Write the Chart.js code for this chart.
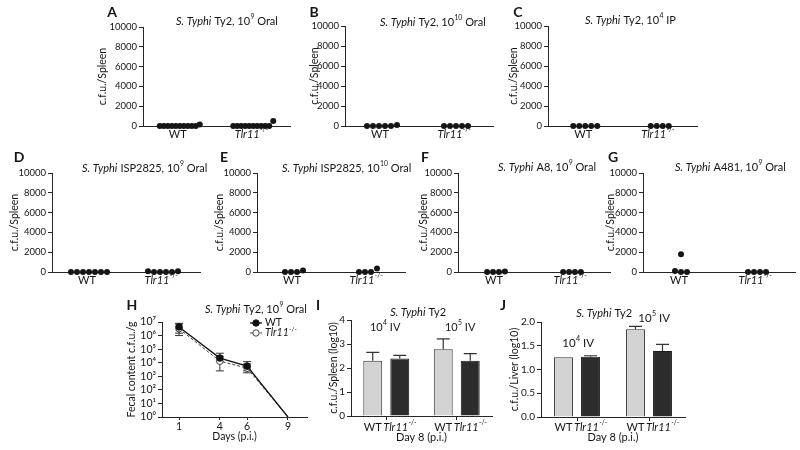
<!DOCTYPE html>
<html><head><meta charset="utf-8">
<script src="https://cdn.jsdelivr.net/npm/chart.js@4.4.1/dist/chart.umd.min.js"></script>
<style>
html,body{margin:0;padding:0;background:#fff;}
#wrap{position:relative;width:800px;height:450px;overflow:hidden;background:#fff;}
canvas{position:absolute;}
</style></head><body><div id="wrap"></div>
<script>
// ---------------- data ----------------
const groupLabels = ['WT', '*Tlr11*^-/-^'];
const spleenTicks = [0, 2000, 4000, 6000, 8000, 10000];
// A: S. Typhi Ty2, 10^9 oral
const ty2Oral9WT  = [0, 0, 0, 0, 0, 0, 0, 0, 0, 0, 150];
const ty2Oral9Tlr = [0, 0, 0, 0, 0, 0, 0, 0, 0, 0, 500];
// B: S. Typhi Ty2, 10^10 oral
const ty2Oral10WT  = [0, 0, 0, 0, 0, 100];
const ty2Oral10Tlr = [0, 0, 0, 0, 0];
// C: S. Typhi Ty2, 10^4 IP
const ty2IPWT  = [0, 0, 0, 0, 0];
const ty2IPTlr = [0, 0, 0, 0];
// D: ISP2825, 10^9 oral
const isp9WT  = [0, 0, 0, 0, 0, 0, 0];
const isp9Tlr = [80, 0, 0, 0, 0, 80];
// E: ISP2825, 10^10 oral
const isp10WT  = [0, 0, 0, 150];
const isp10Tlr = [0, 0, 0, 350];
// F: A8, 10^9 oral
const a8WT  = [0, 0, 0, 60];
const a8Tlr = [0, 0, 0, 0];
// G: A481, 10^9 oral
const a481WT  = [100, 1800, 0, 0];
const a481Tlr = [0, 0, 0, 0];
// H: fecal content
const days = [1, 4, 6, 9];
const fecalTicks = [1, 10, 100, 1e3, 1e4, 1e5, 1e6, 1e7];
const fecalWT     = [4.3e6, 2.2e4, 5.6e3, 1];
const fecalWTLow  = [1.0e6, 1.2e4, 2.5e3, null];
const fecalWTHigh = [8.0e6, 5.0e4, 1.2e4, null];
const fecalTlr     = [3.2e6, 1.3e4, 4.0e3, 1];
const fecalTlrLow  = [1.5e6, 2.5e3, 1.8e3, null];
const fecalTlrHigh = [7.0e6, 3.0e4, 8.0e3, null];
// I / J: IV infection, day 8
const doses = ['10^4^ IV', '10^5^ IV'];
const spleenLogTicks = [0, 1, 2, 3, 4];
const spleenIVWT = [2.3, 2.78];  const spleenIVWTErr = [0.35, 0.43];
const spleenIVTlr = [2.4, 2.3];  const spleenIVTlrErr = [0.13, 0.3];
const liverLogTicks = [0, 0.5, 1, 1.5, 2];
const liverIVWT = [1.26, 1.85];  const liverIVWTErr = [0, 0.06];
const liverIVTlr = [1.27, 1.39]; const liverIVTlrErr = [0.02, 0.14];

// ---------------- helpers ----------------
const FF = 'Lato, "Noto Sans", "DejaVu Sans", sans-serif';
const INK = '#151515', AX = '#262626';
Chart.defaults.font.family = FF;
Chart.defaults.color = INK;
const SUP = {'0':'⁰','1':'¹','2':'²','3':'³','4':'⁴','5':'⁵','6':'⁶','7':'⁷','8':'⁸','9':'⁹','-':'⁻'};
function plain(m) {
  return m.replace(/\^([^^]*)\^/g, (_, s) => [...s].map(c => SUP[c] || c).join('')).replace(/\*/g, '');
}
function parseRich(m) {
  const segs = []; let it = false, sp = false, buf = '';
  const flush = () => { if (buf) { segs.push([buf, ((it ? 'i' : '') + (sp ? 's' : '')) || 'n']); buf = ''; } };
  for (const c of m) {
    if (c === '*') { flush(); it = !it; }
    else if (c === '^') { flush(); sp = !sp; }
    else buf += c;
  }
  flush(); return segs;
}
function drawRich(ctx, m, x, y, size, align, weight) {
  const segs = parseRich(m);
  const fontOf = st => `${st.includes('i') ? 'italic ' : ''}${weight || 'normal'} ${st.includes('s') ? size * 0.62 : size}px ${FF}`;
  const widths = segs.map(([t, st]) => { ctx.font = fontOf(st); return ctx.measureText(t).width; });
  const total = widths.reduce((a, b) => a + b, 0);
  let cx = align === 'center' ? x - total / 2 : align === 'right' ? x - total : x;
  ctx.textAlign = 'left'; ctx.textBaseline = 'middle';
  segs.forEach(([t, st], i) => {
    ctx.font = fontOf(st);
    ctx.fillText(t, cx, st.includes('s') ? y - size * 0.36 : y);
    cx += widths[i] + (st.includes('s') ? 0 : 0.3);
  });
}
function decorPlugin(o) {
  return {
    id: 'decor',
    afterDraw(chart) {
      const ctx = chart.ctx;
      ctx.save(); ctx.fillStyle = INK;
      (o.texts || []).forEach(t => drawRich(ctx, t.m, t.x - o.cl, t.y - o.ct, t.size, t.align || 'center', t.weight));
      if (o.axisLabelY) {
        const xs = chart.scales.x;
        xs.ticks.forEach(t => drawRich(ctx, groupLabels[Math.round(t.value) - 1], xs.getPixelForValue(t.value) - 2, o.axisLabelY - o.ct, o.axisLabelSize, 'center'));
      }
      if (o.barLabelY) {
        chart.data.datasets.forEach((ds, di) => {
          chart.getDatasetMeta(di).data.forEach(el =>
            drawRich(ctx, groupLabels[di], el.x, o.barLabelY - o.ct, o.barLabelSize, 'center'));
        });
      }
      if (o.legend) {
        const L = o.legend;
        chart.data.datasets.forEach((ds, di) => {
          const y = L.y + di * L.dy - o.ct, x = L.x - o.cl;
          ctx.save();
          ctx.strokeStyle = ds.borderColor; ctx.lineWidth = ds.borderWidth;
          ctx.setLineDash(ds.borderDash || []);
          ctx.beginPath(); ctx.moveTo(x - 6, y); ctx.lineTo(x + 6, y); ctx.stroke();
          ctx.setLineDash([]);
          ctx.beginPath(); ctx.arc(x, y, 3.2, 0, Math.PI * 2);
          ctx.fillStyle = ds.pointBackgroundColor; ctx.fill();
          ctx.lineWidth = 1; ctx.strokeStyle = ds.pointBorderColor; ctx.stroke();
          ctx.restore();
          ctx.fillStyle = INK;
          drawRich(ctx, groupLabels[di], x + 9, y, L.size, 'left');
        });
      }
      ctx.restore();
    }
  };
}
const barErrPlugin = {
  id: 'barErr',
  afterDatasetsDraw(chart) {
    const ctx = chart.ctx, ys = chart.scales.y;
    ctx.save(); ctx.strokeStyle = '#333'; ctx.lineWidth = 1.2;
    chart.data.datasets.forEach((ds, di) => {
      chart.getDatasetMeta(di).data.forEach((el, i) => {
        const e = ds.err[i]; if (!e) return;
        const top = ys.getPixelForValue(ds.data[i] + e);
        ctx.beginPath();
        ctx.moveTo(el.x, el.y); ctx.lineTo(el.x, top);
        ctx.moveTo(el.x - 6.5, top); ctx.lineTo(el.x + 6.5, top);
        ctx.stroke();
      });
    });
    ctx.restore();
  }
};
const lineErrPlugin = {
  id: 'lineErr',
  beforeDatasetsDraw(chart) {
    const ctx = chart.ctx, ys = chart.scales.y;
    ctx.save(); ctx.strokeStyle = '#333'; ctx.lineWidth = 1;
    chart.data.datasets.forEach((ds, di) => {
      chart.getDatasetMeta(di).data.forEach((el, i) => {
        if (ds.errLow[i] == null) return;
        const a = ys.getPixelForValue(ds.errLow[i]), b = ys.getPixelForValue(ds.errHigh[i]);
        ctx.beginPath();
        ctx.moveTo(el.x, a); ctx.lineTo(el.x, b);
        ctx.moveTo(el.x - 4, a); ctx.lineTo(el.x + 4, a);
        ctx.moveTo(el.x - 4, b); ctx.lineTo(el.x + 4, b);
        ctx.stroke();
      });
    });
    ctx.restore();
  }
};
const wrap = document.getElementById('wrap');
function makeCanvas(g) {
  const c = document.createElement('canvas');
  c.width = g.cw; c.height = g.ch;
  c.style.left = g.cl + 'px'; c.style.top = g.ct + 'px';
  c.style.width = g.cw + 'px'; c.style.height = g.ch + 'px';
  wrap.appendChild(c); return c;
}
function padFor(g, xH, ts) {
  const sl = g.yl - ts * 1.2 / 2;
  return { padding: { left: sl - g.cl, top: g.at - g.ct, right: g.cl + g.cw - g.ar, bottom: g.ct + g.ch - g.ab - xH }, yW: g.ax - sl };
}
// column-scatter placement: similar values share a row, row centred on the group
function spread(values, center, unitsPerPx) {
  const rows = [];
  values.forEach(v => {
    let r = rows.find(r => Math.abs(r.base - v) < 700);
    if (!r) { r = { base: v, items: [] }; rows.push(r); }
    r.items.push(v);
  });
  const pts = [];
  rows.forEach(r => {
    const n = r.items.length, sp = n > 7 ? 40 / (n - 1) : 6;
    r.items.forEach((v, i) => pts.push({ x: center + (i - (n - 1) / 2) * sp * unitsPerPx, y: v }));
  });
  return pts;
}
const baseOpts = { responsive: false, animation: false, events: [] };
const TICK = 9.5, TS = 10.5;

// ---------------- scatter panels A-G ----------------
function buildScatter(p) {
  const g = p.g, xH = 14;
  const L = padFor(g, xH, TS);
  const upp = 2 / (g.ar - g.ax);
  const pts = spread(p.wt, 1, upp).concat(spread(p.tlr, 2, upp));
  new Chart(makeCanvas(g), {
    type: 'scatter',
    data: { datasets: [{ data: pts, pointRadius: 3, pointHoverRadius: 3, pointBackgroundColor: INK, pointBorderColor: INK, pointBorderWidth: 0, clip: false }] },
    options: Object.assign({}, baseOpts, {
      layout: { padding: L.padding },
      plugins: { legend: { display: false }, tooltip: { enabled: false } },
      scales: {
        x: {
          type: 'linear', min: 0.5, max: 2.5,
          afterFit: s => { s.height = xH; },
          afterBuildTicks: s => { s.ticks = [{ value: 1 }, { value: 2 }]; },
          ticks: { display: false, callback: v => plain(groupLabels[Math.round(v) - 1]) },
          grid: { display: false, drawTicks: false, tickLength: 0 },
          border: { color: AX, width: 1 }
        },
        y: {
          min: 0, max: 10000,
          afterFit: s => { s.width = L.yW; },
          afterBuildTicks: s => { s.ticks = spleenTicks.map(v => ({ value: v })); },
          ticks: { callback: v => String(v), font: { size: TICK }, padding: 2, color: INK, autoSkip: false },
          grid: { drawOnChartArea: false, drawTicks: true, tickLength: 4, color: AX },
          border: { color: AX, width: 1 },
          title: { display: true, text: 'c.f.u./Spleen', font: { size: TS }, padding: 0, color: INK }
        }
      }
    }),
    plugins: [decorPlugin({ cl: g.cl, ct: g.ct, axisLabelY: g.ab + 8, axisLabelSize: 11, texts: [
      { m: p.letter, x: p.lx, y: p.ly, size: 14, weight: 'bold', align: 'center' },
      { m: p.title, x: p.tx, y: p.ty, size: 11, align: 'left' }
    ] })]
  });
}
[
  { g: { cl: 92, ct: 0, cw: 208, ch: 142, yl: 103, ax: 143, ar: 290, at: 27, ab: 126 }, wt: ty2Oral9WT, tlr: ty2Oral9Tlr,
    letter: 'A', lx: 112, ly: 12, title: '*S. Typhi* Ty2, 10^9^ Oral', tx: 176, ty: 21 },
  { g: { cl: 300, ct: 0, cw: 200, ch: 142, yl: 315, ax: 345, ar: 493, at: 26, ab: 126 }, wt: ty2Oral10WT, tlr: ty2Oral10Tlr,
    letter: 'B', lx: 314, ly: 12, title: '*S. Typhi* Ty2, 10^10^ Oral', tx: 380, ty: 22 },
  { g: { cl: 503, ct: 0, cw: 200, ch: 142, yl: 514, ax: 548, ar: 697, at: 26, ab: 126 }, wt: ty2IPWT, tlr: ty2IPTlr,
    letter: 'C', lx: 518, ly: 12, title: '*S. Typhi* Ty2, 10^4^ IP', tx: 585, ty: 20 },
  { g: { cl: 4, ct: 145, cw: 210, ch: 145, yl: 15, ax: 52, ar: 200, at: 173, ab: 272 }, wt: isp9WT, tlr: isp9Tlr,
    letter: 'D', lx: 19, ly: 157, title: '*S. Typhi* ISP2825, 10^9^ Oral', tx: 82, ty: 168 },
  { g: { cl: 208, ct: 145, cw: 210, ch: 145, yl: 220, ax: 257, ar: 405, at: 173, ab: 272 }, wt: isp10WT, tlr: isp10Tlr,
    letter: 'E', lx: 224, ly: 157, title: '*S. Typhi* ISP2825, 10^10^ Oral', tx: 282, ty: 168 },
  { g: { cl: 413, ct: 145, cw: 200, ch: 145, yl: 424, ax: 458, ar: 612, at: 173, ab: 272 }, wt: a8WT, tlr: a8Tlr,
    letter: 'F', lx: 425, ly: 157, title: '*S. Typhi* A8, 10^9^ Oral', tx: 498, ty: 167 },
  { g: { cl: 601, ct: 145, cw: 199, ch: 145, yl: 611, ax: 643, ar: 795, at: 173, ab: 272 }, wt: a481WT, tlr: a481Tlr,
    letter: 'G', lx: 613, ly: 157, title: '*S. Typhi* A481, 10^9^ Oral', tx: 675, ty: 167 }
].forEach(buildScatter);

// ---------------- H: fecal shedding ----------------
(function () {
  const g = { cl: 124, ct: 295, cw: 191, ch: 150, yl: 132, ax: 162, ar: 307, at: 322, ab: 417 }, xH = 26;
  const L = padFor(g, xH, TS);
  const pr = c => (c.raw && c.raw.y > 1 ? 3.3 : 0);
  new Chart(makeCanvas(g), {
    type: 'line',
    data: { datasets: [
      { label: 'WT', data: days.map((d, i) => ({ x: d, y: fecalWT[i] })), errLow: fecalWTLow, errHigh: fecalWTHigh,
        borderColor: '#111', borderWidth: 1.3, pointBackgroundColor: '#111', pointBorderColor: '#111', pointBorderWidth: 1,
        pointRadius: pr, tension: 0, clip: false },
      { label: 'Tlr11', data: days.map((d, i) => ({ x: d, y: fecalTlr[i] })), errLow: fecalTlrLow, errHigh: fecalTlrHigh,
        borderColor: '#444', borderWidth: 1, borderDash: [3, 2], pointBackgroundColor: '#fff', pointBorderColor: '#444', pointBorderWidth: 1,
        pointRadius: pr, tension: 0, clip: false }
    ] },
    options: Object.assign({}, baseOpts, {
      layout: { padding: L.padding },
      plugins: { legend: { display: false }, tooltip: { enabled: false } },
      scales: {
        x: {
          type: 'linear', min: -0.25, max: 10.4,
          afterFit: s => { s.height = xH; },
          afterBuildTicks: s => { s.ticks = days.map(v => ({ value: v })); },
          ticks: { callback: v => String(v), font: { size: 10.5 }, padding: 0, color: INK, maxRotation: 0, autoSkip: false },
          grid: { drawOnChartArea: false, drawTicks: true, tickLength: 3, color: AX },
          border: { color: AX, width: 1 },
          title: { display: true, text: 'Days (p.i.)', font: { size: TS }, padding: 0, color: INK }
        },
        y: {
          type: 'logarithmic', min: 1, max: 1e7,
          afterFit: s => { s.width = L.yW; },
          afterBuildTicks: s => { s.ticks = fecalTicks.map(v => ({ value: v })); },
          ticks: { callback: v => plain('10^' + Math.round(Math.log10(v)) + '^'), font: { size: 10.5 }, padding: 2, color: INK, autoSkip: false },
          grid: { drawOnChartArea: false, drawTicks: true, tickLength: 4, color: AX },
          border: { color: AX, width: 1 },
          title: { display: true, text: 'Fecal content c.f.u./g', font: { size: TS }, padding: 0, color: INK }
        }
      }
    }),
    plugins: [lineErrPlugin, decorPlugin({ cl: g.cl, ct: g.ct,
      texts: [
        { m: 'H', x: 132, y: 305, size: 14, weight: 'bold', align: 'center' },
        { m: '*S. Typhi* Ty2, 10^9^ Oral', x: 205, y: 309, size: 11, align: 'left' }
      ],
      legend: { x: 256, y: 323, dy: 10, size: 10.5 } })]
  });
})();

// ---------------- I / J: bars ----------------
function buildBars(p) {
  const g = p.g;
  const L = padFor(g, p.xH, TS);
  new Chart(makeCanvas(g), {
    type: 'bar',
    data: { labels: doses.map(plain), datasets: [
      { label: 'WT', data: p.wt, err: p.wtErr, backgroundColor: '#d3d3d3', borderColor: '#333', borderWidth: 1 },
      { label: 'Tlr11', data: p.tlr, err: p.tlrErr, backgroundColor: '#2c2c2c', borderColor: '#1a1a1a', borderWidth: 1 }
    ] },
    options: Object.assign({}, baseOpts, {
      layout: { padding: L.padding },
      datasets: { bar: { categoryPercentage: p.cp, barPercentage: 0.7 } },
      plugins: { legend: { display: false }, tooltip: { enabled: false } },
      scales: {
        x: {
          afterFit: s => { s.height = p.xH; },
          ticks: { display: false },
          grid: { drawOnChartArea: false, drawTicks: true, tickLength: 4, color: AX, offset: false },
          border: { color: AX, width: 1 },
          title: { display: true, text: 'Day 8 (p.i.)', font: { size: 11 }, padding: 0, color: INK }
        },
        y: {
          min: 0, max: p.ymax,
          afterFit: s => { s.width = L.yW; },
          afterBuildTicks: s => { s.ticks = p.yticks.map(v => ({ value: v })); },
          ticks: { callback: v => p.fmt(v), font: { size: 10 }, padding: 2, color: INK, autoSkip: false },
          grid: { drawOnChartArea: false, drawTicks: true, tickLength: 4, color: AX },
          border: { color: AX, width: 1 },
          title: { display: true, text: p.ytitle, font: { size: TS }, padding: 0, color: INK }
        }
      }
    }),
    plugins: [barErrPlugin, decorPlugin({ cl: g.cl, ct: g.ct, texts: p.texts, barLabelY: 427, barLabelSize: 11 })]
  });
}
buildBars({
  g: { cl: 312, ct: 295, cw: 193, ch: 150, yl: 334, ax: 351, ar: 492, at: 320, ab: 416 }, xH: 28, cp: 0.766,
  wt: spleenIVWT, wtErr: spleenIVWTErr, tlr: spleenIVTlr, tlrErr: spleenIVTlrErr,
  ymax: 4, yticks: spleenLogTicks, fmt: v => String(v), ytitle: 'c.f.u./Spleen (log10)',
  texts: [
    { m: 'I', x: 318, y: 305, size: 14, weight: 'bold' },
    { m: '*S. Typhi* Ty2', x: 418, y: 312, size: 11 },
    { m: doses[0], x: 385, y: 327, size: 11 },
    { m: doses[1], x: 460, y: 327, size: 11 }
  ]
});
buildBars({
  g: { cl: 500, ct: 295, cw: 200, ch: 150, yl: 515, ax: 541, ar: 685, at: 322, ab: 417 }, xH: 27, cp: 0.75,
  wt: liverIVWT, wtErr: liverIVWTErr, tlr: liverIVTlr, tlrErr: liverIVTlrErr,
  ymax: 2, yticks: liverLogTicks, fmt: v => v.toFixed(1), ytitle: 'c.f.u./Liver (log10)',
  texts: [
    { m: 'J', x: 503, y: 305, size: 14, weight: 'bold' },
    { m: '*S. Typhi* Ty2', x: 604, y: 313, size: 11 },
    { m: doses[0], x: 578, y: 343, size: 11.5 },
    { m: doses[1], x: 654, y: 318, size: 11.5 }
  ]
});
</script>
</body></html>
